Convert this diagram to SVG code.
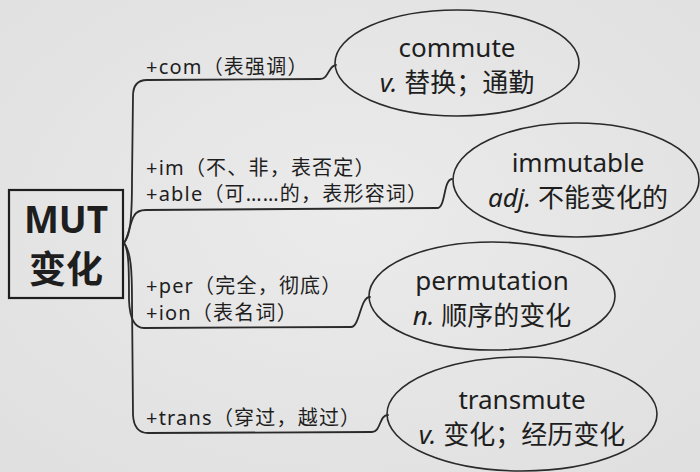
<svg xmlns="http://www.w3.org/2000/svg" width="700" height="472" viewBox="0 0 700 472">
<defs>
<radialGradient id="bg" cx="50%" cy="45%" r="70%">
<stop offset="0" stop-color="#ebebeb"/>
<stop offset="1" stop-color="#e0e0e0"/>
</radialGradient>
</defs>
<style>
.ln{fill:none;stroke:#2a2a2a;stroke-width:1.8;stroke-linecap:round;stroke-linejoin:round}
.el{fill:none;stroke:#2a2a2a;stroke-width:1.6}
.t{font-family:"Noto Sans","Noto Sans CJK SC",sans-serif;fill:#1e1e1e}
.lab{font-size:20px;letter-spacing:1.2px}
.w{font-size:26px;text-anchor:middle}
.it{font-style:italic}
.root{font-size:37px;font-weight:bold;text-anchor:middle}
</style>
<rect width="700" height="472" fill="url(#bg)"/>
<g id="connectors">
<path class="ln" d="M124,243 C130,236 132,220 132,180 L133,96 Q133,80 147,80 L320,79 C329,79 328,66 336,65"/>
<path class="ln" d="M124,243 C129,236 130,222 134,216 Q137,210 146,210 L437,208 C446,208 443,180 452,179"/>
<path class="ln" d="M124,243 C129,250 129,270 129,300 Q130,328 144,328 L351,327 C360,327 360,297 370,297"/>
<path class="ln" d="M124,243 C131,252 132,270 132,300 L133,415 Q134,433 148,433 L372,432 C381,432 379,415 388,415"/>
</g>
<g id="root">
<rect x="9" y="190" width="114" height="108" fill="none" stroke="#1e1e1e" stroke-width="2.2"/>
<text class="t root" x="66" y="233">MUT</text>
<text class="t root" x="66" y="283">变化</text>
</g>
<g id="label-com"><text class="t lab" x="146" y="74">+com（表强调）</text></g>
<g id="label-im-able">
<text class="t lab" x="146" y="175">+im（不、非，表否定）</text>
<text class="t lab" x="146" y="201">+able（可……的，表形容词）</text>
</g>
<g id="label-per-ion">
<text class="t lab" x="146" y="293">+per（完全，彻底）</text>
<text class="t lab" x="146" y="320">+ion（表名词）</text>
</g>
<g id="label-trans"><text class="t lab" x="146" y="425">+trans（穿过，越过）</text></g>
<g id="commute">
<ellipse class="el" cx="457" cy="63" rx="122" ry="53"/>
<text class="t w" x="457" y="57">commute</text>
<text class="t w" x="457" y="92"><tspan class="it">v.</tspan> 替换；通勤</text>
</g>
<g id="immutable">
<ellipse class="el" cx="576" cy="180" rx="123" ry="57"/>
<text class="t w" x="578" y="172">immutable</text>
<text class="t w" x="578" y="207"><tspan class="it">adj.</tspan> 不能变化的</text>
</g>
<g id="permutation">
<ellipse class="el" cx="492" cy="296" rx="123" ry="54"/>
<text class="t w" x="492" y="290">permutation</text>
<text class="t w" x="492" y="325"><tspan class="it">n.</tspan> 顺序的变化</text>
</g>
<g id="transmute">
<ellipse class="el" cx="522" cy="414" rx="135" ry="57"/>
<text class="t w" x="522" y="409">transmute</text>
<text class="t w" x="522" y="444"><tspan class="it">v.</tspan> 变化；经历变化</text>
</g>
</svg>
